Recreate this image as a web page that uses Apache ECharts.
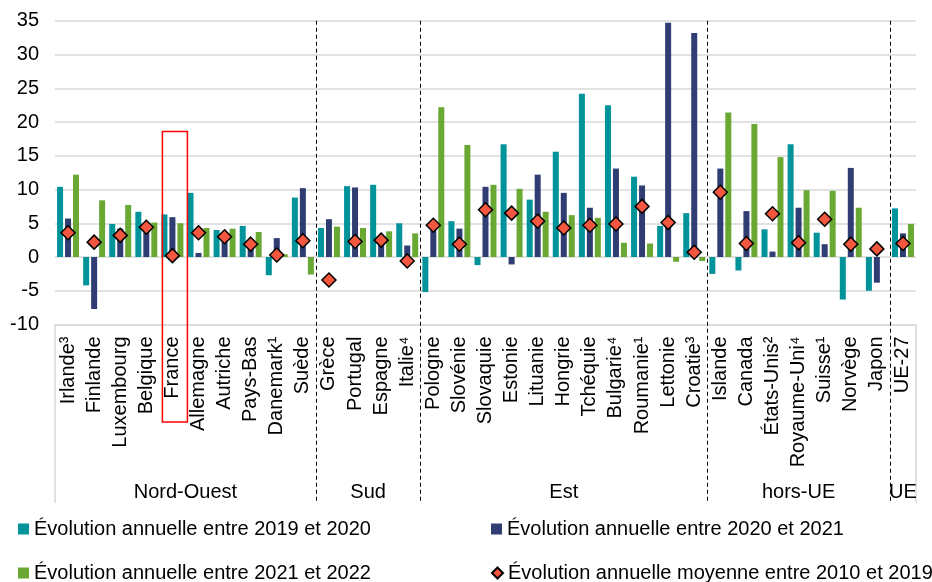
<!DOCTYPE html>
<html>
<head>
<meta charset="utf-8">
<script src="https://cdn.jsdelivr.net/npm/echarts@6/dist/echarts.min.js"></script>
<style>
  html, body { margin: 0; padding: 0; background: #fff; }
  #chart { width: 932px; height: 582px; }
</style>
</head>
<body>
<div id="chart"></div>
<script>
// Pays et zones géographiques
const countries = [
  'Irlande³', 'Finlande', 'Luxembourg', 'Belgique', 'France', 'Allemagne', 'Autriche', 'Pays-Bas', 'Danemark¹', 'Suède',
  'Grèce', 'Portugal', 'Espagne', 'Italie⁴',
  'Pologne', 'Slovénie', 'Slovaquie', 'Estonie', 'Lituanie', 'Hongrie', 'Tchéquie', 'Bulgarie⁴', 'Roumanie¹', 'Lettonie', 'Croatie³',
  'Islande', 'Canada', 'États-Unis²', 'Royaume-Uni⁴', 'Suisse¹', 'Norvège', 'Japon',
  'UE-27'
];
const groupNames = ['Nord-Ouest', 'Sud', 'Est', 'hors-UE', 'UE'];
const groupSizes = [10, 4, 11, 7, 1];

// Évolutions annuelles (en %)
const evol2019_2020 = [10.4, -4.2, 4.9, 6.7, 6.3, 9.5, 4.0, 4.6, -2.7, 8.8,
  4.3, 10.5, 10.7, 5.0,
  -5.2, 5.3, -1.2, 16.7, 8.5, 15.6, 24.2, 22.5, 11.9, 4.6, 6.5,
  -2.5, -2.0, 4.1, 16.7, 3.6, -6.3, -5.0,
  7.2];
const evol2020_2021 = [5.7, -7.7, 4.2, 4.0, 5.9, 0.6, 3.2, 2.4, 2.8, 10.2,
  5.6, 10.3, 2.8, 1.7,
  4.3, 4.2, 10.4, -1.1, 12.2, 9.5, 7.3, 13.1, 10.6, 34.7, 33.2,
  13.1, 6.8, 0.8, 7.3, 1.9, 13.2, -3.8,
  3.5];
const evol2021_2022 = [12.2, 8.4, 7.7, 5.1, 5.0, 4.3, 4.2, 3.7, 0.4, -2.6,
  4.5, 4.3, 3.8, 3.5,
  22.2, 16.6, 10.7, 10.1, 6.7, 6.2, 5.8, 2.1, 2.0, -0.7, -0.6,
  21.4, 19.7, 14.8, 9.9, 9.8, 7.3, null,
  4.9];
const moyenne2010_2019 = [3.6, 2.2, 3.2, 4.4, 0.2, 3.6, 3.0, 1.9, 0.3, 2.4,
  -3.4, 2.3, 2.5, -0.6,
  4.7, 1.9, 7.0, 6.5, 5.3, 4.3, 4.7, 4.9, 7.5, 5.1, 0.7,
  9.6, 2.0, 6.4, 2.1, 5.6, 1.9, 1.2,
  2.0];

const seriesNames = [
  'Évolution annuelle entre 2019 et 2020',
  'Évolution annuelle entre 2020 et 2021',
  'Évolution annuelle entre 2021 et 2022',
  'Évolution annuelle moyenne entre 2010 et 2019'
];

const FONT = '"Liberation Sans", Arial, sans-serif';
const TEAL = '#00939a';
const NAVY = '#2f3d73';
const GREEN = '#6aa834';
const RED = '#f4573f';

const chart = echarts.init(document.getElementById('chart'));

const legendText = { fontSize: 20, fontFamily: FONT, color: '#000', lineHeight: 20 };
// Une légende par entrée, disposées sur deux colonnes et deux lignes
const legendSlots = [
  { left: 18, top: 519, icon: 'rect' },
  { left: 491, top: 519, icon: 'rect' },
  { left: 18, top: 563, icon: 'rect' },
  { left: 491, top: 563, icon: 'diamond' }
];

chart.setOption({
  animation: false,
  backgroundColor: '#fff',
  grid: { left: 55, right: 16, top: 20.75, bottom: 257.5, containLabel: false },
  legend: legendSlots.map((slot, i) => ({
    left: slot.left, top: slot.top, itemWidth: 11, itemHeight: 11, padding: 0,
    textStyle: legendText,
    data: [{ name: seriesNames[i], icon: slot.icon }]
  })),
  xAxis: {
    type: 'category',
    data: countries,
    axisLine: { onZero: false, lineStyle: { color: '#d9d9d9', width: 1.5 } },
    axisTick: { show: false },
    axisLabel: { interval: 0, rotate: 90, margin: 12, fontSize: 20, fontFamily: FONT, color: '#000' },
    splitLine: { show: false }
  },
  yAxis: {
    type: 'value',
    min: -10, max: 35, interval: 5,
    axisLine: { show: false },
    axisTick: { show: false },
    axisLabel: { margin: 16, fontSize: 20, fontFamily: FONT, color: '#000' },
    splitLine: { lineStyle: { color: '#d9d9d9', width: 1.5 } }
  },
  series: [
    { name: seriesNames[0], type: 'bar', data: evol2019_2020, barWidth: 6, barGap: '33%', itemStyle: { color: TEAL } },
    { name: seriesNames[1], type: 'bar', data: evol2020_2021, barWidth: 6, barGap: '33%', itemStyle: { color: NAVY } },
    { name: seriesNames[2], type: 'bar', data: evol2021_2022, barWidth: 6, barGap: '33%', itemStyle: { color: GREEN } },
    {
      name: seriesNames[3], type: 'scatter', data: moyenne2010_2019, z: 5,
      symbol: 'diamond', symbolSize: 14,
      itemStyle: { color: RED, borderColor: '#000', borderWidth: 1.5, opacity: 1 }
    }
  ]
});

// Séparateurs des zones, libellés de zones, cadre des libellés et encadré de la France
const px = i => chart.convertToPixel({ xAxisIndex: 0 }, i);
const py = v => chart.convertToPixel({ yAxisIndex: 0 }, v);
const band = px(1) - px(0);
const plotLeft = px(0) - band / 2;
const plotRight = px(countries.length - 1) + band / 2;
const plotTop = py(35);
const axisY = py(-10);
const boxBottom = 503;
const groupLabelY = 492;

const elements = [];
let start = 0;
groupNames.forEach((name, k) => {
  const end = start + groupSizes[k] - 1;
  const cx = (px(start) + px(end)) / 2;
  elements.push({
    type: 'text', z: 10,
    style: { text: name, x: cx, y: groupLabelY, align: 'center', verticalAlign: 'middle',
             textAlign: 'center', textVerticalAlign: 'middle',
             fontSize: 20, fontFamily: FONT, fill: '#000' }
  });
  if (k < groupNames.length - 1) {
    const sx = Math.round((px(end) + px(end + 1)) / 2) + 0.5;
    elements.push({
      type: 'line', z: 10,
      shape: { x1: sx, y1: plotTop, x2: sx, y2: boxBottom },
      style: { stroke: '#000', lineWidth: 1, lineDash: [4, 3] }
    });
  }
  start = end + 1;
});
[plotLeft, plotRight].forEach(x => {
  elements.push({
    type: 'line', z: 1,
    shape: { x1: x, y1: axisY, x2: x, y2: boxBottom },
    style: { stroke: '#d9d9d9', lineWidth: 1.5 }
  });
});
const franceIdx = countries.indexOf('France');
elements.push({
  type: 'rect', z: 11,
  shape: { x: px(franceIdx) - 10, y: py(18.6), width: 25, height: 422 - py(18.6) },
  style: { fill: 'none', stroke: '#ff0000', lineWidth: 1.5 }
});
chart.setOption({ graphic: { elements } });
</script>
</body>
</html>
